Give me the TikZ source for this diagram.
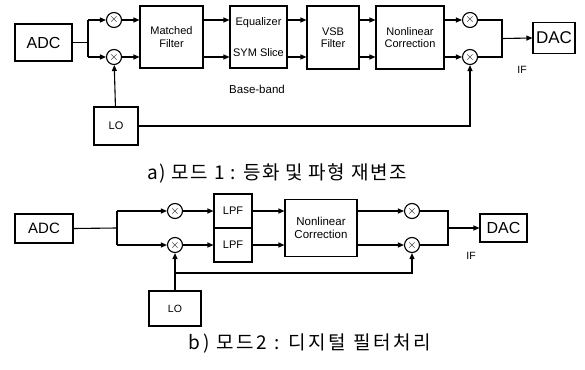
\documentclass[tikz,border=0pt]{standalone}
\usepackage{fontspec}
\setmainfont{Liberation Sans}
\newfontfamily\kor{Noto Sans CJK KR}
\usetikzlibrary{arrows.meta,calc}

\begin{document}
\begin{tikzpicture}[
      x=1pt, y=-1pt,
      line width=1.1pt,
      blk/.style={draw, align=center, inner sep=1pt, font=\fontsize{11}{12.5}\selectfont},
      mix/.style={draw, circle, minimum size=15pt, inner sep=0pt, font=\large},
      arr/.style={-{Triangle[length=6pt,width=5pt]}},
      lbl/.style={font=\fontsize{10.5}{12}\selectfont},
      capt/.style={font=\kor\fontsize{19}{22}\selectfont},
    ]
    \useasboundingbox (0,0) rectangle (585,369);
    % ---- a) mode 1 ----
    \node[blk, minimum width=57pt, minimum height=37pt, font=\fontsize{16}{18}\selectfont] (adcA) at (43.5,42.5) {ADC};
    \node[mix] (m1) at (114,20) {$\times$};
    \node[mix] (m2) at (114,57) {$\times$};
    \node[blk, minimum width=63pt, minimum height=62pt] (mfA) at (171.5,37) {Matched\\Filter};
    \node[blk, minimum width=57pt, minimum height=62pt] (eqA) at (258.5,37) {};
    \node[lbl, font=\fontsize{11}{12}\selectfont] (eqT) at (258.5,23) {Equalizer};
    \node[lbl, font=\fontsize{11}{12}\selectfont] (slT) at (258.5,53) {SYM Slice};
    \node[blk, minimum width=52pt, minimum height=63pt] (vsbA) at (333,37.5) {VSB\\Filter};
    \node[blk, minimum width=68pt, minimum height=63pt] (nlA) at (410,37.5) {Nonlinear\\Correction};
    \node[mix] (m3) at (470,20) {$\times$};
    \node[mix] (m4) at (470,57) {$\times$};
    \node[blk, minimum width=42pt, minimum height=31pt, font=\fontsize{17}{19}\selectfont] (dacA) at (554,38) {DAC};
    \node[blk, minimum width=44pt, minimum height=38pt] (loA) at (116,126) {LO};
    \node[lbl, font=\fontsize{11.5}{12}\selectfont] (bbA) at (257,89) {Base-band};
    \node[lbl] (ifA) at (522,70) {IF};
    \coordinate (spA) at (88,38.5);
    \coordinate (jnA) at (502,38.5);
    % connectors
    \draw (adcA.east) -- (adcA.east -| spA);
    \draw[arr] (spA |- m1) -- (m1);
    \draw[arr] (spA |- m2) -- (m2);
    \draw (spA |- m1) -- (spA |- m2);
    \draw[arr] (m1) -- (m1 -| mfA.west);
    \draw[arr] (m2) -- (m2 -| mfA.west);
    \foreach \a/\b in {mfA/eqA,eqA/vsbA,vsbA/nlA}{
      \draw[arr] (\a.east |- m1) -- (\b.west |- m1);
      \draw[arr] (\a.east |- m2) -- (\b.west |- m2);
    }
    \draw[arr] (nlA.east |- m3) -- (m3);
    \draw[arr] (nlA.east |- m4) -- (m4);
    \draw (m3) -| (jnA) |- (m4);
    \draw[arr] (jnA) -- (dacA.west);
    \draw[arr] (loA) -- (m2);
    \draw[arr] (loA.east) -| (m4);
    % caption a
    \node[capt] (capA) at (277,173) {\addfontfeature{LetterSpace=8}a) 모드 1 : 등화 및 파형 재변조};
    % ---- b) mode 2 ----
    \node[blk, minimum width=58pt, minimum height=29pt, font=\fontsize{15}{17}\selectfont] (adcB) at (44,228.5) {ADC};
    \node[mix] (m5) at (175,211) {$\times$};
    \node[mix] (m6) at (175,245) {$\times$};
    \node[blk, minimum width=38pt, minimum height=34pt] (lpf1) at (233,211) {LPF};
    \node[blk, minimum width=38pt, minimum height=34pt] (lpf2) at (233,245) {LPF};
    \node[blk, minimum width=72pt, minimum height=57pt, font=\fontsize{11.5}{13}\selectfont] (nlB) at (321,228) {Nonlinear\\Correction};
    \node[mix] (m7) at (412,211) {$\times$};
    \node[mix] (m8) at (412,245) {$\times$};
    \node[blk, minimum width=47pt, minimum height=28pt, font=\fontsize{16}{18}\selectfont] (dacB) at (503.5,228) {DAC};
    \node[blk, minimum width=52pt, minimum height=35pt, font=\fontsize{10.5}{12}\selectfont] (loB) at (175,308.5) {LO};
    \node[lbl] (ifB) at (471,256) {IF};
    \coordinate (spB) at (117,228);
    \coordinate (jnB) at (448,228);
    \coordinate (loJ) at (175,273);
    % connectors
    \draw (adcB.east) -- (spB);
    \draw[arr] (spB |- m5) -- (m5);
    \draw[arr] (spB |- m6) -- (m6);
    \draw (spB |- m5) -- (spB |- m6);
    \draw[arr] (m5) -- (lpf1);
    \draw[arr] (m6) -- (lpf2);
    \draw[arr] (lpf1) -- (lpf1 -| nlB.west);
    \draw[arr] (lpf2) -- (lpf2 -| nlB.west);
    \draw[arr] (nlB.east |- m7) -- (m7);
    \draw[arr] (nlB.east |- m8) -- (m8);
    \draw (m7) -| (jnB) |- (m8);
    \draw[arr] (jnB) -- (dacB.west);
    \draw[arr] (loB) -- (m6);
    \draw[arr] (loJ) -| (m8);
    % caption b
    \node[capt] (capB) at (310,343) {\addfontfeature{LetterSpace=14}b) 모드2 : 디지털 필터처리};
\end{tikzpicture}
\end{document}
